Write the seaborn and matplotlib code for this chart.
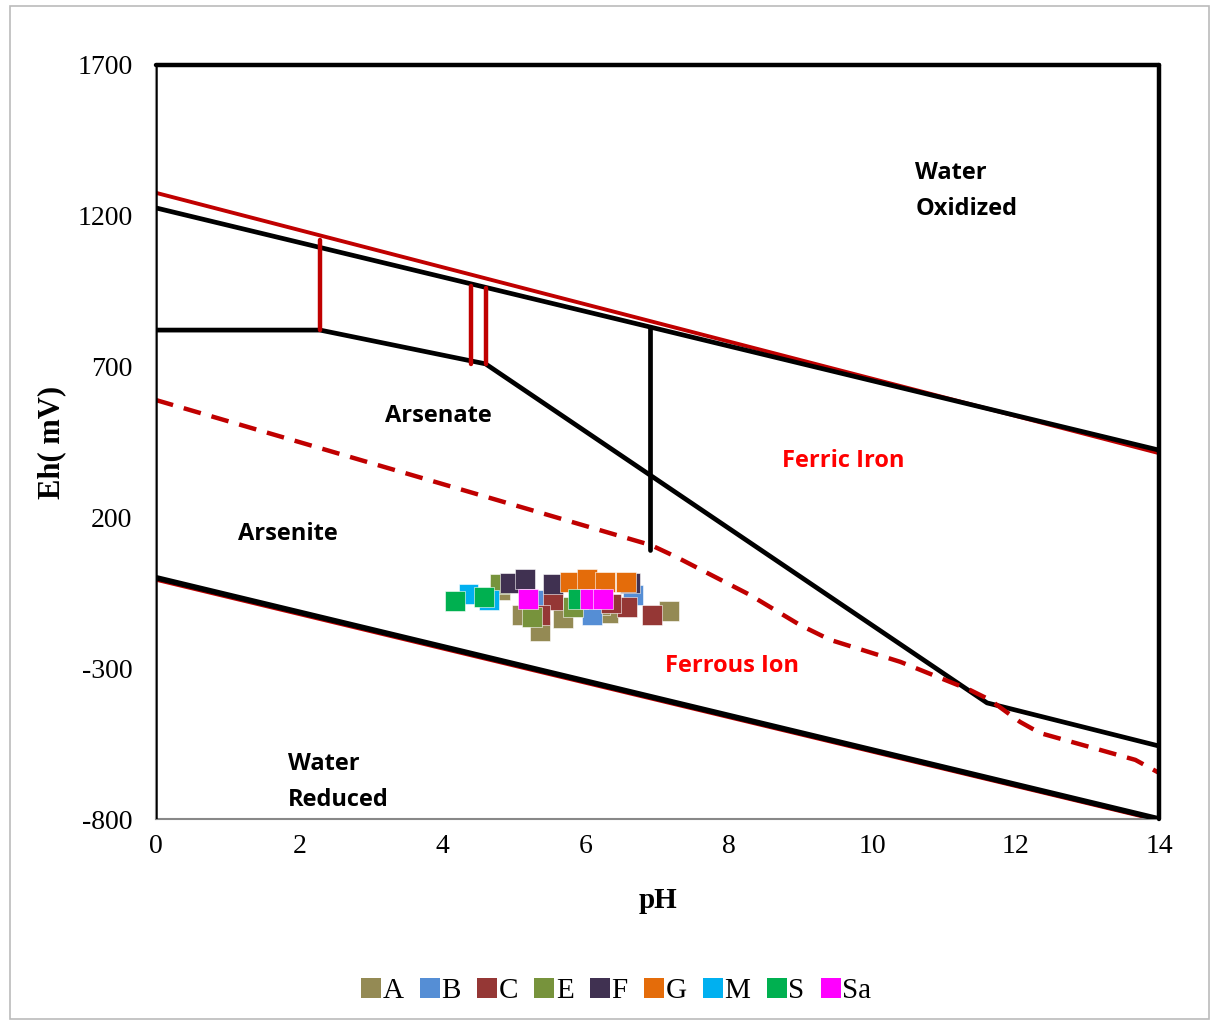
import numpy as np
import pandas as pd
import matplotlib
matplotlib.use("Agg")
import matplotlib.pyplot as plt
import seaborn as sns

# sample points (pH, Eh in mV) per site
sites = ["A", "B", "C", "E", "F", "G", "M", "S", "Sa"]
colors = ["#948A54", "#558ED5", "#953735", "#77933C", "#403151",
          "#E46C0A", "#00B0F0", "#00B050", "#FF00FF"]
ph_A = [4.80, 5.11, 5.36, 5.68, 6.31, 7.16, 6.20]
eh_A = [-41, -124, -177, -134, -117, -110, -90]
ph_B = [5.36, 6.09, 6.66]
eh_B = [-74, -124, -57]
ph_C = [5.54, 5.36, 6.57, 6.92, 6.35]
eh_C = [-74, -124, -97, -124, -85]
ph_E = [5.25, 5.82, 4.80]
eh_E = [-130, -97, -21]
ph_F = [4.94, 5.15, 5.54, 6.62]
eh_F = [-17, -4, -21, -17]
ph_G = [5.78, 6.02, 6.27, 6.56]
eh_G = [-14, -4, -14, -14]
ph_M = [4.36, 4.65]
eh_M = [-54, -74]
ph_S = [4.17, 4.58, 5.89]
eh_S = [-77, -64, -71]
ph_Sa = [5.19, 6.06, 6.24]
eh_Sa = [-71, -71, -71]

# boundary lines
water_ox_red_ph = [0, 14]
water_ox_red_eh = [1276, 413]
upper_black_ph = [0, 6.9, 14]
upper_black_eh = [1226, 831, 423]
water_red_ph = [0, 14]
water_red_eh = [0, -800]
water_red_red_eh = [-8, -806]
arsenic_ph = [0, 2.29, 4.6, 11.6, 14]
arsenic_eh = [821, 821, 709, -415, -558]
iron_vert_ph = [6.9, 6.9]
iron_vert_eh = [831, 92]
red_v1_ph, red_v1_eh = [2.29, 2.29], [1120, 821]
red_v2_ph, red_v2_eh = [4.4, 4.4], [967, 709]
red_v3_ph, red_v3_eh = [4.6, 4.6], [960, 709]
fe_dash_ph = [0, 6.91, 7.26, 8.29, 8.99, 9.41, 10.39, 11.36, 11.64, 12.06,
              12.34, 13.18, 13.67, 14]
fe_dash_eh = [589, 108, 69, -57, -157, -206, -279, -372, -405, -478,
              -515, -571, -604, -647]

frames = []
for s, xs, ys in zip(sites,
                     [ph_A, ph_B, ph_C, ph_E, ph_F, ph_G, ph_M, ph_S, ph_Sa],
                     [eh_A, eh_B, eh_C, eh_E, eh_F, eh_G, eh_M, eh_S, eh_Sa]):
    frames.append(pd.DataFrame({"pH": xs, "Eh": ys, "site": s}))
df = pd.concat(frames, ignore_index=True)

sns.set_style("white")
plt.rcParams["font.family"] = ["Liberation Serif", "DejaVu Serif"]
plt.rcParams["axes.unicode_minus"] = False
plt.rcParams["text.color"] = "black"
plt.rcParams["xtick.color"] = "#888888"
plt.rcParams["ytick.color"] = "#888888"
plt.rcParams["xtick.labelcolor"] = "black"
plt.rcParams["ytick.labelcolor"] = "black"
plt.rcParams["axes.labelcolor"] = "black"

fig = plt.figure(figsize=(12.14, 10.23), dpi=100)
ax = fig.add_axes([0.1285, 0.1994, 0.8262, 0.7371])

ax.plot(water_ox_red_ph, water_ox_red_eh, color="#C00000", lw=2.8, zorder=2)
ax.plot(upper_black_ph, upper_black_eh, color="black", lw=3.4, zorder=3)
ax.plot(water_red_ph, water_red_red_eh, color="#C00000", lw=2.2, zorder=2)
ax.plot(water_red_ph, water_red_eh, color="black", lw=4.0, zorder=3)
ax.plot(arsenic_ph, arsenic_eh, color="black", lw=3.4, zorder=3)
ax.plot(iron_vert_ph, iron_vert_eh, color="black", lw=3.4, zorder=3)
for xs, ys in [(red_v1_ph, red_v1_eh), (red_v2_ph, red_v2_eh), (red_v3_ph, red_v3_eh)]:
    ax.plot(xs, ys, color="#C00000", lw=3.2, solid_capstyle="round", zorder=4)
ax.plot(fe_dash_ph, fe_dash_eh, color="#C00000", lw=3.2, ls=(0, (4, 2.5)), zorder=3)
# frame lines at top, right, left
ax.plot([0, 14], [1700, 1700], color="black", lw=3.2, zorder=3, clip_on=False)
ax.plot([14, 14], [1700, -800], color="black", lw=3.2, zorder=3, clip_on=False)
ax.plot([0, 0], [1700, -800], color="black", lw=1.8, zorder=3)

sns.scatterplot(data=df, x="pH", y="Eh", hue="site", hue_order=sites,
                palette=colors, marker="s", s=200, edgecolor="white",
                linewidth=0.4, ax=ax, zorder=5)

ax.set_xlim(0, 14)
ax.set_ylim(-800, 1700)
ax.set_xticks(range(0, 15, 2))
ax.set_yticks([-800, -300, 200, 700, 1200, 1700])
ax.tick_params(labelsize=20, length=5, direction="out")
ax.tick_params(axis="y", pad=12)
ax.tick_params(axis="x", pad=6)
ax.set_xlabel("pH", fontsize=21, fontweight="bold", labelpad=20)
ax.set_ylabel("Eh( mV)", fontsize=22, fontweight="bold", labelpad=8)
for sp in ["top", "right"]:
    ax.spines[sp].set_visible(False)
for sp in ["left", "bottom"]:
    ax.spines[sp].set_color("#888888")
    ax.spines[sp].set_linewidth(1.5)

lab = dict(fontsize=17, fontweight="bold", family=["Open Sans", "DejaVu Sans"])
ax.text(10.6, 1342, "Water", ha="left", va="center", **lab)
ax.text(10.6, 1223, "Oxidized", ha="left", va="center", **lab)
ax.text(3.94, 536, "Arsenate", ha="center", va="center", **lab)
ax.text(1.84, 145, "Arsenite", ha="center", va="center", **lab)
ax.text(9.59, 387, "Ferric Iron", ha="center", va="center", color="#FF0000", **lab)
ax.text(8.04, -293, "Ferrous Ion", ha="center", va="center", color="#FF0000", **lab)
ax.text(1.84, -617, "Water", ha="left", va="center", **lab)
ax.text(1.84, -736, "Reduced", ha="left", va="center", **lab)

sns.move_legend(ax, "lower center", bbox_to_anchor=(0.455, -0.28), ncol=9,
                frameon=False, title=None, fontsize=21, handletextpad=-0.2,
                columnspacing=0.3, handlelength=1.2)
for h in ax.get_legend().legend_handles:
    h.set_markersize(14)
    h.set_markeredgewidth(0)

fig.patches.append(plt.Rectangle((0.008, 0.004), 0.988, 0.99, transform=fig.transFigure,
                                 fill=False, edgecolor="#BBBBBB", lw=1.2))

fig.savefig("out.png", dpi=100)
